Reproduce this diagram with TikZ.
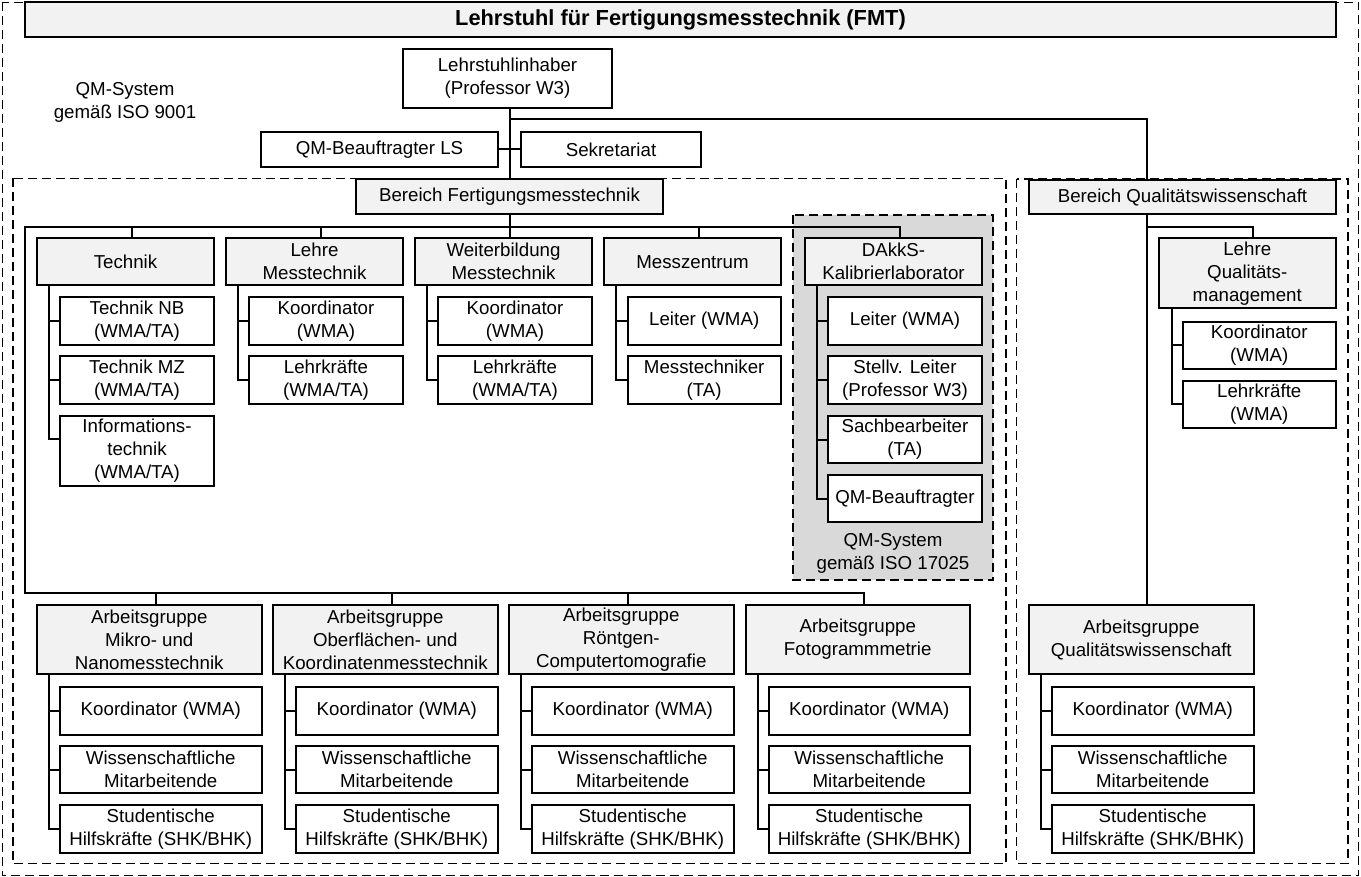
\documentclass[tikz,border=0pt]{standalone}
\usepackage{fontspec}
\setmainfont{Liberation Sans}
\definecolor{hdrgrey}{HTML}{F2F2F2}
\definecolor{labgrey}{HTML}{D9D9D9}
\begin{document}
\begin{tikzpicture}[x=1pt,y=-1pt,line width=2pt,
  base/.style={draw,line width=2pt,align=center,inner sep=2pt,outer sep=0pt,anchor=north west,font=\fontsize{18.7}{23}\selectfont},
  hdr/.style={base,fill=hdrgrey},
  sub/.style={base,fill=white},
  area/.style={draw,line width=1.9pt,dash pattern=on 9pt off 5pt},
  lbl/.style={align=center,font=\fontsize{18.7}{23}\selectfont}]
\useasboundingbox (0,0) rectangle (1361,877);

% dashed areas
\draw[area] (2.5,2.5) rectangle (1358.5,875.5);
\draw[area] (13,178.5) rectangle (1006,863.5);
\draw[area] (1016.5,179) rectangle (1348,863.5);
\draw[area,fill=labgrey] (792.7,215) rectangle (993.3,580);

% head
\node[hdr,minimum width=1311pt,minimum height=35pt,font=\fontsize{21.8}{26}\selectfont\bfseries] (title) at (25,2) {Lehrstuhl für Fertigungsmesstechnik (FMT)};
\node[lbl] (qm9001) at (125,102) {QM-System\\gemäß ISO 9001};
\node[sub,minimum width=209pt,minimum height=59pt] (ls) at (403,49) {Lehrstuhlinhaber\\(Professor W3)};
\node[sub,minimum width=237pt,minimum height=35pt] (qmls) at (261,132) {QM-Beauftragter LS};
\node[sub,minimum width=180pt,minimum height=35pt] (sek) at (521,132) {Sekretariat};
\node[hdr,minimum width=307pt,minimum height=35pt] (bfmt) at (356,179) {Bereich Fertigungsmesstechnik};
\node[hdr,minimum width=307pt,minimum height=34pt] (bqw) at (1029,180) {Bereich Qualitätswissenschaft};

% top row
\node[hdr,minimum width=177pt,minimum height=47.5pt] (technik) at (37,238) {Technik};
\node[hdr,minimum width=177pt,minimum height=47.5pt] (lm) at (226,238) {Lehre\\Messtechnik};
\node[hdr,minimum width=177pt,minimum height=47.5pt] (wb) at (415,238) {Weiterbildung\\Messtechnik};
\node[hdr,minimum width=177pt,minimum height=47.5pt] (mz) at (604,238) {Messzentrum};
\node[hdr,minimum width=177pt,minimum height=47.5pt] (dakks) at (805,238) {DAkkS-\\Kalibrierlaborator};

\node[sub,minimum width=154pt,minimum height=48pt] (tnb) at (60,297) {Technik NB\\(WMA/TA)};
\node[sub,minimum width=154pt,minimum height=48pt] (tmz) at (60,356) {Technik MZ\\(WMA/TA)};
\node[sub,minimum width=154pt,minimum height=70pt] (tinfo) at (60,416) {Informations-\\technik\\(WMA/TA)};

\node[sub,minimum width=154pt,minimum height=48pt] (lmk) at (249,297) {Koordinator\\(WMA)};
\node[sub,minimum width=154pt,minimum height=48pt] (lml) at (249,356) {Lehrkräfte\\(WMA/TA)};

\node[sub,minimum width=154pt,minimum height=48pt] (wbk) at (438,297) {Koordinator\\(WMA)};
\node[sub,minimum width=154pt,minimum height=48pt] (wbl) at (438,356) {Lehrkräfte\\(WMA/TA)};

\node[sub,minimum width=153pt,minimum height=48pt] (mzl) at (627.7,297) {Leiter (WMA)};
\node[sub,minimum width=153pt,minimum height=48pt] (mzm) at (627.7,356) {Messtechniker\\(TA)};

\node[sub,minimum width=154.5pt,minimum height=48pt] (dkl) at (827.7,297) {Leiter (WMA)};
\node[sub,minimum width=154.5pt,minimum height=48pt] (dks) at (827.7,356) {Stellv. Leiter\\(Professor W3)};
\node[sub,minimum width=154.5pt,minimum height=47pt] (dkb) at (827.7,416) {Sachbearbeiter\\(TA)};
\node[sub,minimum width=154.5pt,minimum height=47pt] (dkq) at (827.7,475) {QM-Beauftragter};
\node[lbl] (qm17025) at (893,553) {QM-System\\gemäß ISO 17025};

% QW
\node[hdr,minimum width=177.5pt,minimum height=70pt] (lqm) at (1158.5,238.3) {Lehre\\Qualitäts-\\management};
\node[sub,minimum width=153.5pt,minimum height=47pt] (lqmk) at (1182.5,321.7) {Koordinator\\(WMA)};
\node[sub,minimum width=153.5pt,minimum height=46pt] (lqml) at (1182.5,381.5) {Lehrkräfte\\(WMA)};

% bottom row
\foreach \n/\x/\t in {1/37/{Arbeitsgruppe\\Mikro- und\\Nanomesstechnik},
  2/273/{Arbeitsgruppe\\Oberflächen- und\\Koordinatenmesstechnik},
  3/509/{Arbeitsgruppe\\Röntgen-\\Computertomografie},
  4/745.5/{Arbeitsgruppe\\Fotogrammmetrie},
  5/1029/{Arbeitsgruppe\\Qualitätswissenschaft}} {
  \node[hdr,minimum width=224.5pt,minimum height=69pt] (ag\n) at (\x,605) {\t};
  \node[sub,minimum width=201.5pt,minimum height=48pt] (agk\n) at (\x+23,687) {Koordinator (WMA)};
  \node[sub,minimum width=201.5pt,minimum height=47pt] (agw\n) at (\x+23,746) {Wissenschaftliche\\Mitarbeitende};
  \node[sub,minimum width=201.5pt,minimum height=48pt] (ags\n) at (\x+23,805) {Studentische\\Hilfskräfte (SHK/BHK)};
  \draw ([xshift=12pt]ag\n.south west) |- (ags\n.west);
  \draw ([xshift=12pt]ag\n.south west |- agk\n.west) -- (agk\n.west);
  \draw ([xshift=12pt]ag\n.south west |- agw\n.west) -- (agw\n.west);
}

% connectors head
\draw (ls.south -| bfmt.north) -- (bfmt.north);
\draw (qmls.east) -- (sek.west);
\coordinate (qwx) at (1147,119.5);
\draw (qwx -| bfmt.north) -- (qwx) -- (qwx |- bqw.north);
\draw (qwx |- bqw.south) -- (qwx |- ag5.north);
\coordinate (qwbus) at (1147,227.3);
\draw (qwbus) -| ([xshift=6pt]lqm.north);
\draw ([xshift=13pt]lqm.south west) |- (lqml.west);
\draw ([xshift=13pt]lqm.south west |- lqmk.west) -- (lqmk.west);

% connectors FMT
\coordinate (busT) at (25,227.3);
\coordinate (busB) at (25,593.3);
\draw ([xshift=6pt]dakks.north) |- (busT) -- (busB) -| ([xshift=6.5pt]ag4.north);
\foreach \h in {technik,lm,mz}
  \draw ([xshift=6pt]\h.north) -- ([xshift=6pt]\h.north |- busT);
\draw (bfmt.south) -- (bfmt.south |- wb.north);
\foreach \n in {1,2,3}
  \draw ([xshift=6.5pt]ag\n.north) -- ([xshift=6.5pt]ag\n.north |- busB);

\draw ([xshift=12pt]technik.south west) |- ([yshift=12.5pt]tinfo.west);
\draw ([xshift=12pt]technik.south west |- tnb.west) -- (tnb.west);
\draw ([xshift=12pt]technik.south west |- tmz.west) -- (tmz.west);
\draw ([xshift=12pt]lm.south west) |- (lml.west);
\draw ([xshift=12pt]lm.south west |- lmk.west) -- (lmk.west);
\draw ([xshift=11.5pt]wb.south west) |- (wbl.west);
\draw ([xshift=11.5pt]wb.south west |- wbk.west) -- (wbk.west);
\draw ([xshift=12pt]mz.south west) |- (mzm.west);
\draw ([xshift=12pt]mz.south west |- mzl.west) -- (mzl.west);
\draw ([xshift=12pt]dakks.south west) |- (dkq.west);
\foreach \s in {dkl,dks,dkb}
  \draw ([xshift=12pt]dakks.south west |- \s.west) -- (\s.west);
\end{tikzpicture}
\end{document}
